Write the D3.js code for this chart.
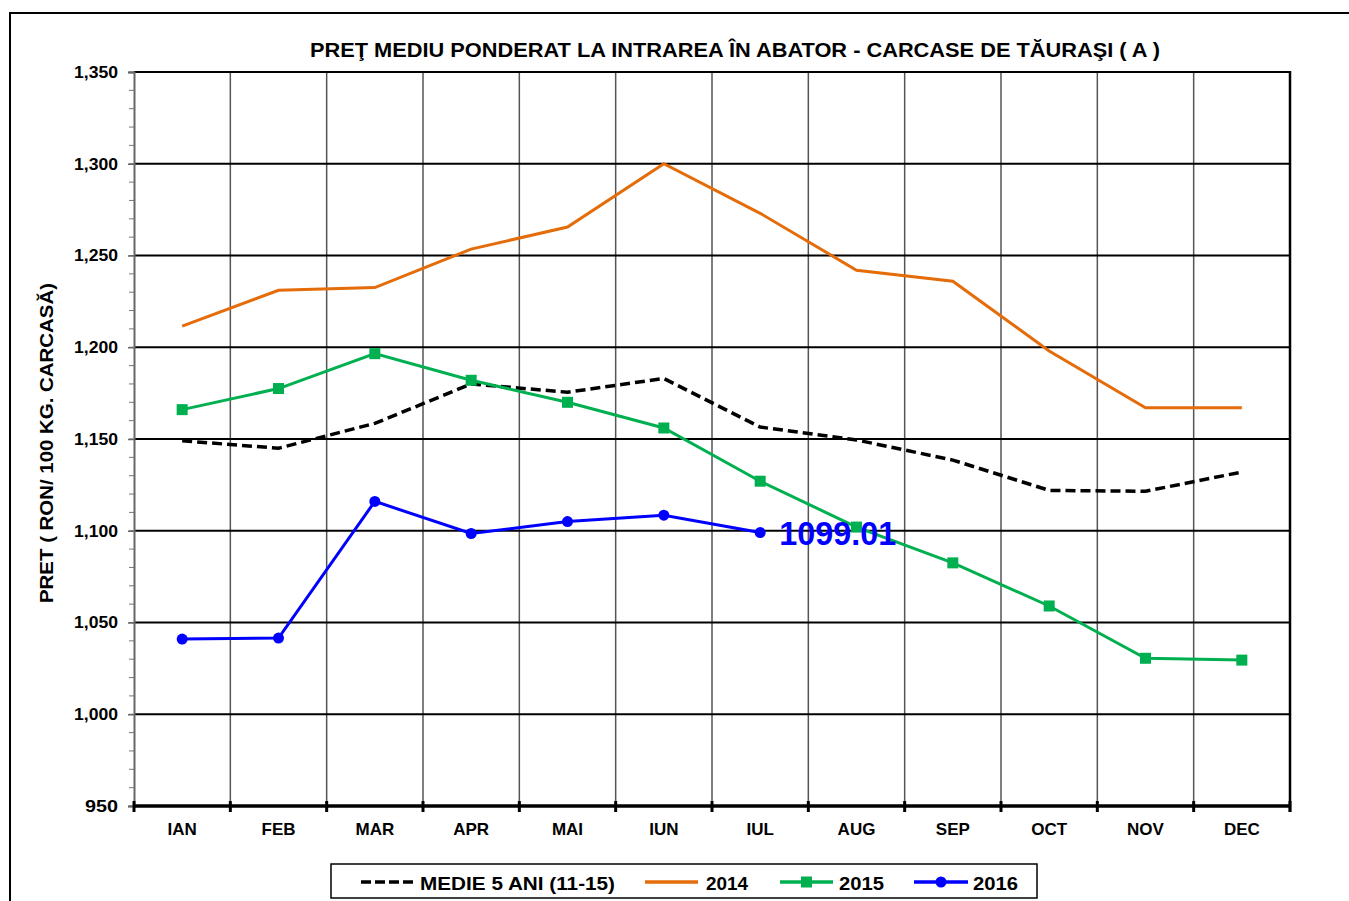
<!DOCTYPE html>
<html><head><meta charset="utf-8">
<script src="https://cdnjs.cloudflare.com/ajax/libs/d3/7.8.5/d3.min.js"></script>
<style>body{margin:0;background:#fff}svg{display:block}text{font-family:"Liberation Sans",Arial,sans-serif;font-weight:bold}</style>
</head><body><svg id="c" width="1349" height="901"></svg>
<script>
const months = ["IAN","FEB","MAR","APR","MAI","IUN","IUL","AUG","SEP","OCT","NOV","DEC"];
const medie = [1149,1145,1158.5,1180,1175.5,1183,1156.5,1149.5,1138.5,1122,1121.5,1132];
const y2014 = [1211.5,1231,1232.5,1253.5,1265.5,1300,1273,1242,1236,1198,1167,1167];
const y2015 = [1166,1177.5,1196.5,1182,1170,1156,1127,1102,1082.5,1059,1030.5,1029.5];
const y2016 = [1041,1041.5,1116,1098.5,1105,1108.5,1099.01];
const yTicks = [950,1000,1050,1100,1150,1200,1250,1300,1350];
const title = "PREŢ MEDIU PONDERAT LA INTRAREA ÎN ABATOR - CARCASE DE TĂURAŞI ( A )";
const yTitle = "PRET ( RON/ 100 KG. CARCASĂ)";
const lastLabel = "1099.01";
const legendNames = ["MEDIE 5 ANI (11-15)","2014","2015","2016"];

const svg = d3.select("#c");
const L=134,R=1290,T=72,B=806;
const FONT = "Liberation Sans, Arial, sans-serif";
const x = d3.scaleBand().domain(months).range([L,R]);
const y = d3.scaleLinear().domain([950,1350]).range([B,T]);
const cx = m => x(m)+x.bandwidth()/2;

// outer border
svg.append("rect").attr("x",10).attr("y",13).attr("width",1360).attr("height",920)
  .attr("fill","none").attr("stroke","#000").attr("stroke-width",2);

// title
svg.append("text").attr("x",735).attr("y",57).attr("text-anchor","middle")
  .style("font-size","20px").attr("textLength",850).attr("lengthAdjust","spacingAndGlyphs").text(title);

// vertical gridlines
const g = svg.append("g");
g.selectAll(".vg").data(months.slice(1)).join("line")
  .attr("x1",d=>x(d)).attr("x2",d=>x(d)).attr("y1",T).attr("y2",B)
  .attr("stroke","#555").attr("stroke-width",1.5);
// horizontal gridlines
g.selectAll(".hg").data(yTicks.slice(1)).join("line")
  .attr("x1",L).attr("x2",R).attr("y1",d=>y(d)).attr("y2",d=>y(d))
  .attr("stroke","#000").attr("stroke-width",2);
// right border
g.append("line").attr("x1",R).attr("x2",R).attr("y1",T-1).attr("y2",B+6).attr("stroke","#000").attr("stroke-width",2.5);

// y minor ticks
const minor = d3.range(950,1351,10);
g.selectAll(".mt").data(minor).join("line")
  .attr("x1",L-5).attr("x2",L).attr("y1",d=>y(d)).attr("y2",d=>y(d))
  .attr("stroke","#777").attr("stroke-width",1);
// y axis
const ya = svg.append("g").attr("transform",`translate(${L},0)`)
  .call(d3.axisLeft(y).tickValues(yTicks).tickFormat(d3.format(",")).tickSize(6).tickPadding(10));
ya.attr("font-size",null).attr("font-family",null);
ya.select(".domain").attr("stroke","#666").attr("stroke-width",2);
ya.selectAll(".tick line").attr("stroke","#666").attr("stroke-width",1.5);
ya.selectAll("text").style("font-size","17px").style("font-family",FONT).style("font-weight","bold").attr("fill","#000")
  .attr("textLength",d=>d<1000?33:44).attr("lengthAdjust","spacingAndGlyphs");

// x axis
const xa = svg.append("g").attr("transform",`translate(0,${B})`)
  .call(d3.axisBottom(x).tickSize(0).tickPadding(17));
xa.attr("font-size",null).attr("font-family",null);
xa.select(".domain").remove();
xa.selectAll("text").style("font-size","17px").style("font-family",FONT).style("font-weight","bold").attr("fill","#000");
svg.append("line").attr("x1",L).attr("x2",R+1).attr("y1",B).attr("y2",B).attr("stroke","#000").attr("stroke-width",3.5);
const bounds = months.map(m=>x(m)).concat([R]);
svg.selectAll(".xt").data(bounds).join("line")
  .attr("x1",d=>d).attr("x2",d=>d).attr("y1",B-5).attr("y2",B+6).attr("stroke","#000").attr("stroke-width",3);

// y title
svg.append("text").attr("transform","translate(53,443) rotate(-90)").attr("text-anchor","middle")
  .style("font-size","18px").attr("textLength",320).attr("lengthAdjust","spacingAndGlyphs").text(yTitle);

const line = d3.line().x((d,i)=>cx(months[i])).y(d=>y(d));
svg.append("path").datum(medie).attr("d",line).attr("fill","none").attr("stroke","#000").attr("stroke-width",3.5).attr("stroke-dasharray","10,5");
svg.append("path").datum(y2014).attr("d",line).attr("fill","none").attr("stroke","#E46C0A").attr("stroke-width",3);
svg.append("path").datum(y2015).attr("d",line).attr("fill","none").attr("stroke","#00B050").attr("stroke-width",3);
svg.selectAll(".sq").data(y2015).join("rect")
  .attr("x",(d,i)=>cx(months[i])-5.5).attr("y",d=>y(d)-5.5).attr("width",11).attr("height",11).attr("fill","#00B050");
svg.append("path").datum(y2016).attr("d",line).attr("fill","none").attr("stroke","#0000FF").attr("stroke-width",3);
svg.selectAll(".ci").data(y2016).join("circle")
  .attr("cx",(d,i)=>cx(months[i])).attr("cy",d=>y(d)).attr("r",5.5).attr("fill","#0000FF");
const li = y2016.length-1;
svg.append("text").attr("x",cx(months[li])+19).attr("y",y(y2016[li])+12)
  .style("font-size","33px").attr("fill","#0000FF").attr("textLength",117).attr("lengthAdjust","spacingAndGlyphs").text(lastLabel);

// legend
const lg = svg.append("g");
lg.append("rect").attr("x",331).attr("y",864).attr("width",706).attr("height",34)
  .attr("fill","#fff").attr("stroke","#000").attr("stroke-width",1.5);
const ly = 882;
lg.append("line").attr("x1",361).attr("x2",414).attr("y1",ly).attr("y2",ly).attr("stroke","#000").attr("stroke-width",3.5).attr("stroke-dasharray","10,4");
lg.append("line").attr("x1",645).attr("x2",698).attr("y1",ly).attr("y2",ly).attr("stroke","#E46C0A").attr("stroke-width",3.5);
lg.append("line").attr("x1",780).attr("x2",833).attr("y1",ly).attr("y2",ly).attr("stroke","#00B050").attr("stroke-width",3.5);
lg.append("rect").attr("x",801).attr("y",ly-5.5).attr("width",11).attr("height",11).attr("fill","#00B050");
lg.append("line").attr("x1",914).attr("x2",968).attr("y1",ly).attr("y2",ly).attr("stroke","#0000FF").attr("stroke-width",3.5);
lg.append("circle").attr("cx",941).attr("cy",ly).attr("r",5.5).attr("fill","#0000FF");
const lx = [420,706,839,973];
const lw = [195,42,45,45];
lg.selectAll(".lt").data(legendNames).join("text")
  .attr("x",(d,i)=>lx[i]).attr("y",ly+8).style("font-size","19px")
  .attr("textLength",(d,i)=>lw[i]).attr("lengthAdjust","spacingAndGlyphs").text(d=>d);
</script></body></html>
